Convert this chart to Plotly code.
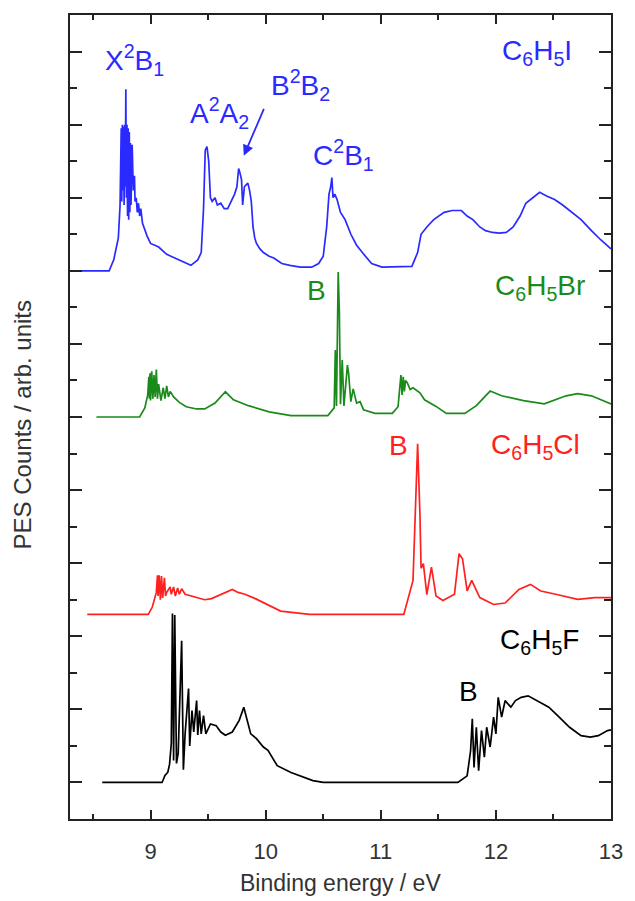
import plotly.graph_objects as go

# ---------------- data (binding energy in eV, intensity in arb. units) ----------------
offsets = {"C6H5I": 14.0, "C6H5Br": 10.0, "C6H5Cl": 4.6, "C6H5F": 0.0}
colors = {"C6H5I": "#2a2aff", "C6H5Br": "#1a8a1a", "C6H5Cl": "#ff2020", "C6H5F": "#000000"}

iodo_x = [8.30, 8.64, 8.68, 8.72, 8.735, 8.745, 8.75, 8.755, 8.76, 8.765,
          8.77, 8.775, 8.78, 8.785, 8.79, 8.795, 8.80, 8.805, 8.81, 8.815,
          8.82, 8.825, 8.83, 8.84, 8.85, 8.86, 8.865, 8.875, 8.885, 8.895,
          8.905, 8.915, 8.93, 8.95, 8.97, 9.00, 9.07, 9.14, 9.21, 9.28,
          9.35, 9.41, 9.44, 9.46, 9.475, 9.49, 9.505, 9.52, 9.535, 9.56,
          9.58, 9.61, 9.64, 9.67, 9.70, 9.73, 9.75, 9.765, 9.775, 9.79,
          9.80, 9.815, 9.83, 9.845, 9.86, 9.875, 9.89, 9.905, 9.92, 9.95,
          9.98, 10.03, 10.07, 10.14, 10.21, 10.30, 10.40, 10.46, 10.50, 10.53,
          10.55, 10.565, 10.575, 10.585, 10.60, 10.62, 10.65, 10.69, 10.74, 10.79,
          10.84, 10.92, 11.01, 11.10, 11.20, 11.27, 11.32, 11.35, 11.40, 11.46,
          11.55, 11.62, 11.70, 11.75, 11.80, 11.86, 11.91, 11.97, 12.03, 12.09,
          12.15, 12.21, 12.26, 12.32, 12.38, 12.44, 12.51, 12.58, 12.66, 12.74,
          12.83, 12.91, 13.0]
iodo_y = [0, 0, 0.3, 0.9, 1.8, 3.9, 1.9, 4.0, 2.2, 3.95,
          1.8, 4.0, 2.3, 4.97, 2.0, 4.0, 1.5, 3.9, 1.4, 3.8,
          1.6, 3.5, 1.8, 3.45, 2.2, 2.6, 1.9, 2.0, 1.6, 1.85,
          1.5, 1.7, 1.3, 1.1, 0.95, 0.75, 0.65, 0.45, 0.35, 0.25,
          0.15, 0.3, 0.5, 1.7, 3.3, 3.4, 3.0, 2.0, 1.9, 2.0,
          1.8, 1.85, 1.7, 1.7, 1.9, 2.1, 2.3, 2.8, 2.7, 2.5,
          1.8, 2.3, 2.35, 2.4, 2.2, 1.9, 1.2, 0.9, 0.75, 0.6,
          0.5, 0.4, 0.35, 0.2, 0.15, 0.1, 0.1, 0.2, 0.4, 1.2,
          2.1, 2.3, 2.55, 2.0, 2.1, 1.95, 1.6, 1.4, 1.0, 0.7,
          0.5, 0.2, 0.1, 0.1, 0.1, 0.12, 0.5, 1.0, 1.2, 1.4,
          1.6, 1.65, 1.65, 1.5, 1.4, 1.2, 1.1, 1.05, 1.03, 1.05,
          1.2, 1.5, 1.85, 2.0, 2.15, 2.05, 1.95, 1.8, 1.6, 1.4,
          1.1, 0.85, 0.6]

bromo_x = [8.53, 8.905, 8.95, 8.975, 8.985, 8.99, 8.995, 9.00, 9.01, 9.02,
           9.03, 9.04, 9.05, 9.06, 9.07, 9.09, 9.11, 9.125, 9.14, 9.155,
           9.17, 9.20, 9.25, 9.31, 9.40, 9.47, 9.56, 9.61, 9.65, 9.72,
           9.85, 10.03, 10.22, 10.54, 10.595, 10.605, 10.615, 10.63, 10.64, 10.65,
           10.665, 10.68, 10.70, 10.71, 10.72, 10.74, 10.76, 10.79, 10.82, 10.85,
           10.95, 11.10, 11.15, 11.175, 11.185, 11.195, 11.205, 11.215, 11.23, 11.255,
           11.28, 11.34, 11.38, 11.48, 11.57, 11.73, 11.83, 11.95, 12.05, 12.24,
           12.42, 12.61, 12.71, 12.83, 13.0]
bromo_y = [0, 0, 0.25, 0.6, 1.1, 0.5, 1.2, 0.45, 1.25, 0.5,
           1.15, 0.55, 1.3, 0.5, 0.9, 0.45, 0.8, 0.5, 0.85, 0.55,
           0.7, 0.55, 0.4, 0.28, 0.22, 0.22, 0.38, 0.55, 0.69, 0.47,
           0.31, 0.14, 0.04, 0.04, 0.25, 1.83, 0.3, 3.97, 2.88, 0.35,
           1.56, 0.3, 1.0, 1.42, 1.2, 0.42, 0.77, 0.38, 0.42, 0.2,
           0.1, 0.1, 0.28, 1.15, 0.6, 1.1, 0.7, 1.0, 0.94, 0.75,
           0.8, 0.66, 0.47, 0.29, 0.1, 0.1, 0.31, 0.71, 0.58, 0.45,
           0.36, 0.58, 0.64, 0.58, 0.36]

chloro_x = [8.45, 8.98, 9.015, 9.05, 9.06, 9.065, 9.075, 9.085, 9.095, 9.105,
            9.12, 9.13, 9.14, 9.17, 9.18, 9.20, 9.215, 9.235, 9.25, 9.27,
            9.30, 9.35, 9.40, 9.47, 9.53, 9.62, 9.71, 9.76, 9.82, 9.91,
            10.13, 10.38, 11.20, 11.28, 11.31, 11.32, 11.34, 11.35, 11.37, 11.40,
            11.44, 11.48, 11.54, 11.64, 11.68, 11.71, 11.75, 11.79, 11.86, 11.98,
            12.08, 12.20, 12.30, 12.39, 12.52, 12.71, 12.86, 13.0]
chloro_y = [0, 0, 0.2, 0.6, 1.07, 0.5, 1.07, 0.4, 1.05, 0.45,
            1.0, 0.5, 0.6, 0.75, 0.55, 0.75, 0.5, 0.72, 0.55, 0.7,
            0.55, 0.5, 0.45, 0.4, 0.43, 0.55, 0.68, 0.6, 0.55, 0.43,
            0.09, 0, 0, 0.93, 3.99, 4.67, 2.76, 1.26, 1.39, 0.54,
            1.29, 0.5, 0.38, 0.55, 1.66, 1.52, 0.64, 0.93, 0.46, 0.27,
            0.31, 0.68, 0.82, 0.64, 0.55, 0.41, 0.46, 0.46]

fluoro_x = [8.58, 9.10, 9.125, 9.15, 9.165, 9.18, 9.19, 9.20, 9.21, 9.225,
            9.24, 9.26, 9.27, 9.285, 9.30, 9.33, 9.34, 9.36, 9.375, 9.40,
            9.41, 9.425, 9.44, 9.46, 9.48, 9.52, 9.57, 9.61, 9.65, 9.71,
            9.77, 9.81, 9.84, 9.87, 9.92, 9.98, 10.02, 10.10, 10.22, 10.41,
            10.50, 11.67, 11.75, 11.78, 11.795, 11.81, 11.83, 11.85, 11.875, 11.90,
            11.92, 11.95, 11.98, 12.00, 12.02, 12.05, 12.08, 12.13, 12.17, 12.22,
            12.28, 12.36, 12.46, 12.55, 12.64, 12.74, 12.82, 12.89, 12.97, 13.0]
fluoro_y = [0, 0, 0.19, 0.28, 0.5, 1.07, 4.62, 0.6, 4.58, 0.52,
            0.8, 3.06, 3.88, 0.35, 1.33, 2.57, 1.0, 1.97, 1.38, 2.24,
            1.3, 1.97, 1.33, 1.83, 1.33, 1.6, 1.55, 1.38, 1.29, 1.38,
            1.7, 2.06, 1.7, 1.33, 1.2, 0.97, 0.88, 0.46, 0.27, 0.05,
            0, 0, 0.18, 0.86, 1.74, 0.41, 1.51, 0.32, 1.42, 0.69,
            1.51, 0.97, 1.79, 1.33, 2.33, 1.79, 2.24, 2.06, 2.24, 2.33,
            2.37, 2.24, 2.06, 1.79, 1.51, 1.28, 1.24, 1.28, 1.42, 1.44]

spectra = {
    "C6H5I": (iodo_x, iodo_y),
    "C6H5Br": (bromo_x, bromo_y),
    "C6H5Cl": (chloro_x, chloro_y),
    "C6H5F": (fluoro_x, fluoro_y),
}

# labels: text, position (eV, arb. units), colour key
label_texts = ["X<sup>2</sup>B<sub>1</sub>", "A<sup>2</sup>A<sub>2</sub>", "B<sup>2</sup>B<sub>2</sub>",
               "C<sup>2</sup>B<sub>1</sub>", "C<sub>6</sub>H<sub>5</sub>I",
               "B", "C<sub>6</sub>H<sub>5</sub>Br",
               "B", "C<sub>6</sub>H<sub>5</sub>Cl",
               "B", "C<sub>6</sub>H<sub>5</sub>F"]
label_x = [8.86, 9.60, 10.30, 10.68, 12.36, 10.44, 12.38, 11.15, 12.34, 11.76, 12.38]
label_y = [19.78, 18.32, 19.08, 17.17, 19.98, 13.45, 13.55, 9.22, 9.2, 2.48, 3.85]
label_series = ["C6H5I"] * 5 + ["C6H5Br"] * 2 + ["C6H5Cl"] * 2 + ["C6H5F"] * 2

arrow_tail = (9.99, 18.47)
arrow_head = (9.81, 17.15)

# ---------------- figure ----------------
FONT = "Liberation Sans, Arial, sans-serif"
fig = go.Figure()
for name, (xs, ys) in spectra.items():
    assert len(xs) == len(ys), name
    off = offsets[name]
    fig.add_trace(go.Scatter(x=xs, y=[v + off for v in ys], mode="lines",
                             line=dict(color=colors[name], width=1.7),
                             name=name, showlegend=False))

annotations = []
for t, x, y, s in zip(label_texts, label_x, label_y, label_series):
    annotations.append(dict(x=x, y=y, xref="x", yref="y", text=t, showarrow=False,
                            font=dict(family=FONT, size=28, color=colors[s]),
                            xanchor="center", yanchor="middle"))
annotations.append(dict(x=arrow_head[0], y=arrow_head[1], ax=arrow_tail[0], ay=arrow_tail[1],
                        xref="x", yref="y", axref="x", ayref="y", text="", showarrow=True,
                        arrowhead=2, arrowsize=1.2, arrowwidth=1.8, arrowcolor=colors["C6H5I"]))
annotations.append(dict(x=-0.088, y=0.49, xref="paper", yref="paper",
                        text="PES Counts / arb. units", textangle=-90, showarrow=False,
                        font=dict(family=FONT, size=24, color="#333333"),
                        xanchor="center", yanchor="middle"))
annotations.append(dict(x=0.5, y=-0.080, xref="paper", yref="paper",
                        text="Binding energy / eV", showarrow=False,
                        font=dict(family=FONT, size=23, color="#333333"),
                        xanchor="center", yanchor="middle"))

fig.update_layout(
    width=635, height=901,
    margin=dict(l=70, r=15, t=15, b=82),
    paper_bgcolor="white", plot_bgcolor="white",
    annotations=annotations,
    font=dict(family=FONT, color="#333333"),
)
fig.update_xaxes(range=[8.3, 13.0], tick0=9, dtick=1, ticks="inside", ticklen=9, tickwidth=1.6,
                 tickcolor="#222222", showline=True, linecolor="#222222", linewidth=2,
                 mirror="ticks", showgrid=False, zeroline=False, ticklabelstandoff=12,
                 tickfont=dict(family=FONT, size=22, color="#333333"),
                 minor=dict(dtick=0.5, tick0=8.5, ticks="inside", ticklen=5, tickwidth=1.6,
                            tickcolor="#222222", showgrid=False))
fig.update_yaxes(range=[-1, 21], tick0=0, dtick=2, ticks="inside", ticklen=12, tickwidth=1.6,
                 tickcolor="#222222", showline=True, linecolor="#222222", linewidth=2,
                 mirror="ticks", showgrid=False, zeroline=False, showticklabels=False,
                 minor=dict(dtick=1, tick0=0, ticks="inside", ticklen=7, tickwidth=1.6,
                            tickcolor="#222222", showgrid=False))

fig.write_html("out.html")
